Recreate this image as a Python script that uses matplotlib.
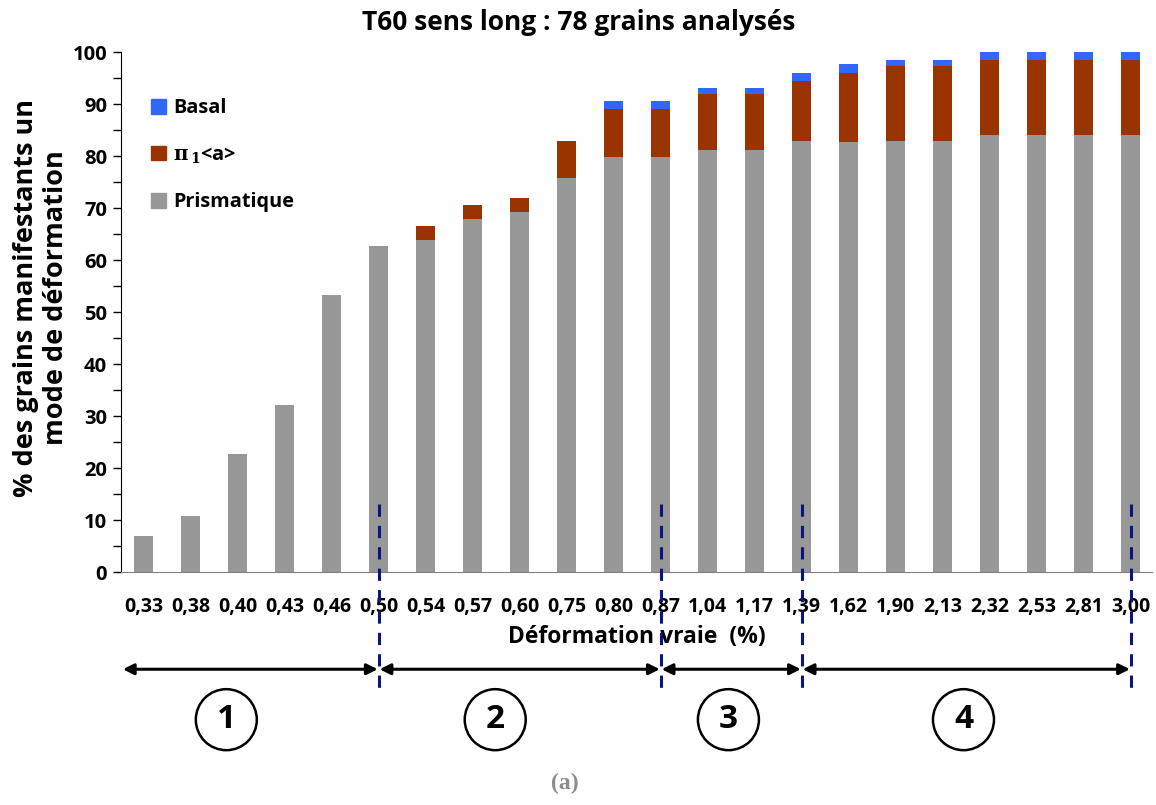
import numpy as np
import matplotlib.pyplot as plt
from matplotlib.patches import Patch

plt.rcParams['font.family'] = ['Open Sans', 'DejaVu Sans']
plt.rcParams['font.weight'] = 'bold'
plt.rcParams['mathtext.fontset'] = 'dejavuserif'

# deformation levels (category labels)
deformation = ["0,33", "0,38", "0,40", "0,43", "0,46", "0,50", "0,54", "0,57", "0,60", "0,75", "0,80",
               "0,87", "1,04", "1,17", "1,39", "1,62", "1,90", "2,13", "2,32", "2,53", "2,81", "3,00"]
# cumulative levels (%)
prismatique = [7.0, 10.8, 22.7, 32.2, 53.3, 62.6, 63.9, 67.8, 69.3, 75.8, 79.9,
               79.9, 81.2, 81.2, 82.8, 82.6, 82.8, 82.8, 84.1, 84.1, 84.1, 84.1]
pi1_top = [7.0, 10.8, 22.7, 32.2, 53.3, 62.6, 66.5, 70.6, 72.0, 82.8, 89.1,
           89.1, 92.0, 92.0, 94.5, 96.0, 97.4, 97.4, 98.5, 98.5, 98.5, 98.5]
basal_top = [7.0, 10.8, 22.7, 32.2, 53.3, 62.6, 66.5, 70.6, 72.0, 82.8, 90.6,
             90.6, 93.1, 93.1, 96.0, 97.6, 98.5, 98.5, 100.0, 100.0, 100.0, 100.0]
# stage boundaries (index of the category) and stage labels
boundaries = [5, 11, 14, 21]
stage_start = -0.46
stage_labels = ["1", "2", "3", "4"]
stage_centres = [1.76, 7.48, 12.44, 17.44]

c_prism = "#989898"
c_pi = "#993300"
c_basal = "#3366ff"

x = np.arange(len(deformation))
pi1 = np.array(pi1_top) - np.array(prismatique)
basal = np.array(basal_top) - np.array(pi1_top)

fig = plt.figure(figsize=(11.56, 8.05), dpi=100)
ax = fig.add_axes([121/1156, 1-572/805, (1152-121)/1156, 520/805])

w = 0.4
ax.bar(x, prismatique, w, color=c_prism, zorder=2)
ax.bar(x, pi1, w, bottom=prismatique, color=c_pi, zorder=2)
ax.bar(x, basal, w, bottom=pi1_top, color=c_basal, zorder=2)

ax.set_xlim(-0.48, 21.45)
ax.set_ylim(0, 100)
ax.set_yticks(np.arange(0, 101, 10))
ax.set_yticks(np.arange(0, 101, 5), minor=True)
ax.tick_params(axis='y', which='both', direction='out', length=6, width=1, labelsize=14.5, pad=4)
ax.set_xticks(x)
ax.set_xticklabels(deformation, fontsize=14, fontweight='bold')
ax.tick_params(axis='x', length=0, pad=18)
for s in ['top', 'right']:
    ax.spines[s].set_visible(False)
ax.spines['bottom'].set_color('#808080')
ax.spines['left'].set_color('black')

fig.text(579/1156, 1-22/805, "T60 sens long : 78 grains analysés", ha='center', va='center',
         fontsize=19, fontweight='bold')
ax.set_xlabel("Déformation vraie  (%)", fontsize=16.5, fontweight='bold', labelpad=6)
fig.text(41/1156, 1-298/805, "% des grains manifestants un\nmode de déformation", rotation=90,
         ha='center', va='center', multialignment='center', fontsize=19.5, fontweight='bold',
         linespacing=1.22)

handles = [Patch(color=c_basal), Patch(color=c_pi), Patch(color=c_prism)]
labels = ["Basal", r"$\mathbf{\pi}_{\,\mathbf{1}}$<a>", "Prismatique"]
ax.legend(handles, labels, loc='upper left', bbox_to_anchor=(0.012, 0.945), frameon=False,
          fontsize=14.3, handlelength=0.72, handleheight=0.72, labelspacing=1.35, handletextpad=0.4)

# stage markers below the axis
for b in boundaries:
    ax.plot([b, b], [13, -22.7], ls=(0, (4.0, 3.0)), color="#0a1580", lw=2.2, clip_on=False, zorder=5)
starts = [stage_start] + boundaries[:-1]
for a, b in zip(starts, boundaries):
    ax.annotate("", xy=(b - 0.02, -18.7), xytext=(a + 0.02, -18.7), xycoords='data',
                arrowprops=dict(arrowstyle='<|-|>', color='black', lw=2.2,
                                mutation_scale=16, shrinkA=0, shrinkB=0),
                annotation_clip=False)
for lab, cx in zip(stage_labels, stage_centres):
    ax.text(cx, -28.4, lab, ha='center', va='center', fontsize=24, fontweight='bold',
            bbox=dict(boxstyle='circle,pad=0.42', fc='white', ec='black', lw=1.8), clip_on=False)

fig.text(565/1156, 1-783/805, "(a)", ha='center', va='center', fontsize=17,
         fontweight='bold', color='#8c8c8c', family=['Liberation Serif', 'DejaVu Serif'])

fig.savefig("out.png", dpi=100)
